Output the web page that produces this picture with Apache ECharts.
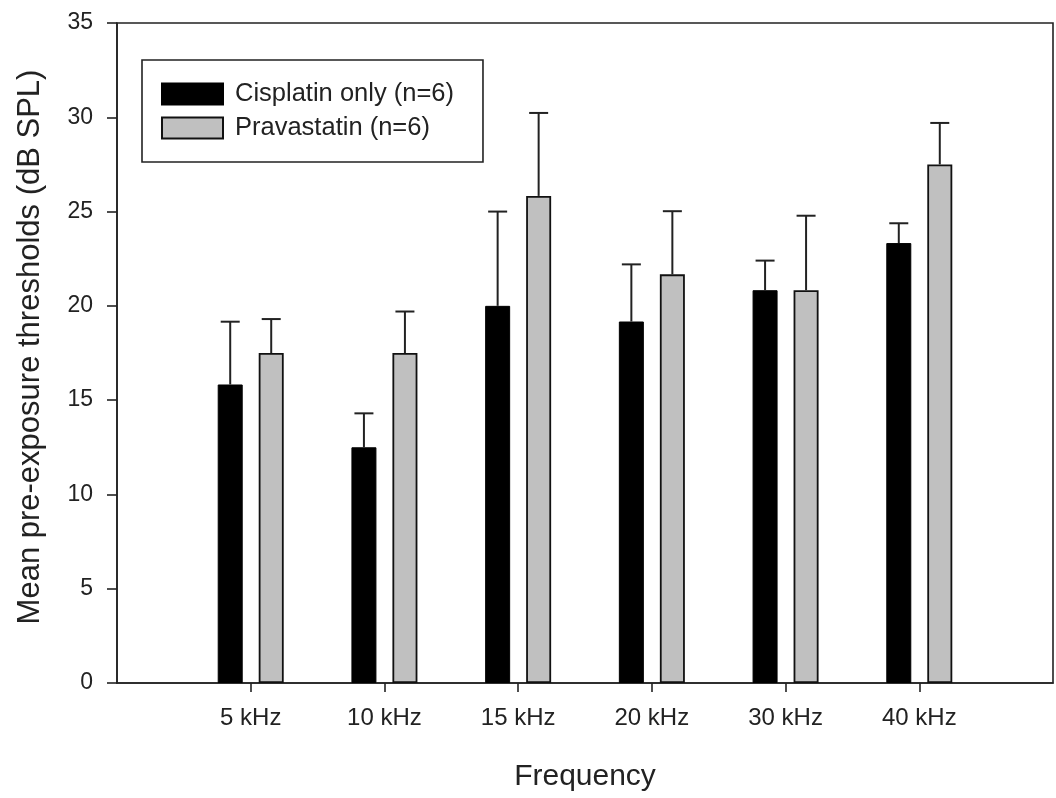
<!DOCTYPE html>
<html>
<head>
<meta charset="utf-8">
<script src="https://cdn.jsdelivr.net/npm/echarts@6/dist/echarts.min.js"></script>
<style>
html,body{margin:0;padding:0;background:#fff;}
#chart{width:1056px;height:798px;}
</style>
</head>
<body>
<div id="chart"></div>
<script>
var categories = ['5 kHz', '10 kHz', '15 kHz', '20 kHz', '30 kHz', '40 kHz'];
var cisplatinMean = [15.83, 12.5, 20.0, 19.17, 20.83, 23.33];
var cisplatinErr  = [3.33, 1.8, 5.0, 3.03, 1.57, 1.05];
var pravaMean     = [17.5, 17.5, 25.83, 21.67, 20.83, 27.5];
var pravaErr      = [1.8, 2.2, 4.4, 3.35, 3.95, 2.2];
var yTicks = { min: 0, max: 35, interval: 5 };

var FONT = "'Liberation Sans', Arial, sans-serif";
var INK = '#222';
var BAR_W = 25, BAR_GAP = 16;

// pad category axis with empty slots at each end
var axisCats = [''].concat(categories, ['']);
function pad(arr) { return [null].concat(arr, [null]); }

function errData(mean, err) {
  var out = [];
  for (var i = 0; i < mean.length; i++) out.push([i + 1, mean[i], mean[i] + err[i]]);
  return out;
}

function makeErrRender(dir) {
  return function (params, api) {
    var c = api.value(0);
    var lo = api.coord([c, api.value(1)]);
    var hi = api.coord([c, api.value(2)]);
    var x = lo[0] + dir * (BAR_W + BAR_GAP) / 2;
    var half = 9.5;
    return {
      type: 'group',
      children: [
        { type: 'line', shape: { x1: x, y1: lo[1], x2: x, y2: hi[1] }, style: { stroke: INK, lineWidth: 2 } },
        { type: 'line', shape: { x1: x - half, y1: hi[1], x2: x + half, y2: hi[1] }, style: { stroke: INK, lineWidth: 2 } }
      ]
    };
  };
}

var chart = echarts.init(document.getElementById('chart'), null, { renderer: 'canvas' });
chart.setOption({
  animation: false,
  backgroundColor: '#fff',
  textStyle: { fontFamily: FONT },
  grid: { left: 117, right: 1, top: 23, bottom: 115, show: true, borderColor: INK, borderWidth: 1.6, backgroundColor: 'transparent' },
  legend: {
    orient: 'vertical',
    left: 142, top: 60,
    padding: [21, 29, 21, 19],
    itemGap: 8,
    itemWidth: 61, itemHeight: 21,
    borderColor: INK, borderWidth: 1.6,
    icon: 'rect',
    data: ['Cisplatin only (n=6)', 'Pravastatin (n=6)'],
    textStyle: { fontSize: 25.5, color: INK, fontFamily: FONT, padding: [0, 0, 0, 7] }
  },
  xAxis: {
    type: 'category',
    data: axisCats,
    boundaryGap: false,
    name: 'Frequency',
    nameLocation: 'middle',
    nameGap: 79,
    nameTextStyle: { fontSize: 30, color: INK, fontFamily: FONT },
    axisLine: { lineStyle: { color: INK, width: 1.6 } },
    axisTick: {
      length: 9,
      lineStyle: { color: INK, width: 1.6 },
      interval: function (idx) { return idx > 0 && idx < axisCats.length - 1; }
    },
    axisLabel: { interval: 0, fontSize: 24, color: INK, fontFamily: FONT, margin: 23 },
    splitLine: { show: false }
  },
  yAxis: {
    type: 'value',
    min: yTicks.min, max: yTicks.max, interval: yTicks.interval,
    name: 'Mean pre-exposure thresholds (dB SPL)',
    nameLocation: 'middle',
    nameGap: 71,
    nameTextStyle: { fontSize: 31, color: INK, fontFamily: FONT, padding: [0, 0, 0, 12] },
    axisLine: { show: true, lineStyle: { color: INK, width: 1.6 } },
    axisTick: { show: true, length: 10, lineStyle: { color: INK, width: 1.6 } },
    axisLabel: { fontSize: 23, color: INK, fontFamily: FONT, margin: 24 },
    splitLine: { show: false }
  },
  series: [
    {
      name: 'Cisplatin only (n=6)',
      type: 'bar',
      data: pad(cisplatinMean),
      barWidth: BAR_W,
      barGap: (BAR_GAP / BAR_W * 100) + '%',
      itemStyle: { color: '#000', borderColor: '#000', borderWidth: 1 },
      z: 2
    },
    {
      name: 'Pravastatin (n=6)',
      type: 'bar',
      data: pad(pravaMean),
      barWidth: BAR_W,
      barGap: (BAR_GAP / BAR_W * 100) + '%',
      itemStyle: { color: '#c0c0c0', borderColor: '#111', borderWidth: 1.8 },
      z: 2
    },
    {
      type: 'custom',
      renderItem: makeErrRender(-1),
      data: errData(cisplatinMean, cisplatinErr),
      encode: { x: 0, y: [1, 2] },
      z: 3, silent: true
    },
    {
      type: 'custom',
      renderItem: makeErrRender(1),
      data: errData(pravaMean, pravaErr),
      encode: { x: 0, y: [1, 2] },
      z: 3, silent: true
    }
  ]
});
</script>
</body>
</html>
